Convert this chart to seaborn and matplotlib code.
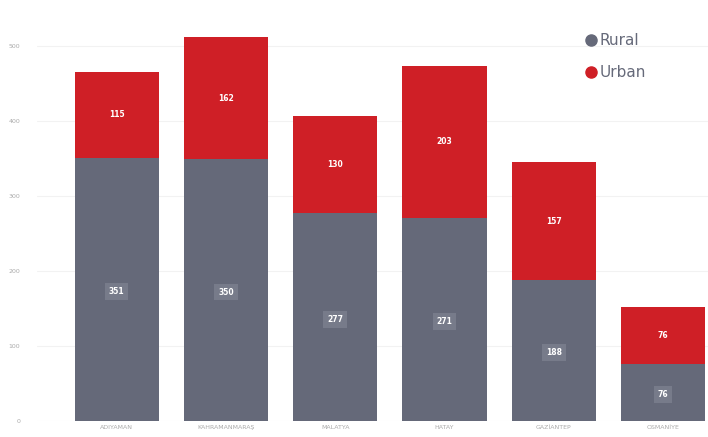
import matplotlib
matplotlib.use("Agg")
import matplotlib.pyplot as plt
from matplotlib.lines import Line2D
import numpy as np
import pandas as pd
import seaborn as sns

provinces = ["ADIYAMAN", "KAHRAMANMARAŞ", "MALATYA", "HATAY", "GAZİANTEP", "OSMANİYE"]
rural = [351, 350, 277, 271, 188, 76]
urban = [115, 162, 130, 203, 157, 76]

RURAL_COLOR = "#656979"
URBAN_COLOR = "#cf1f26"

df = pd.DataFrame({"province": provinces, "rural": rural, "urban": urban})
df["total"] = df["rural"] + df["urban"]

sns.set_style("white")
fig = plt.figure(figsize=(7.08, 4.37), dpi=100)
ax = fig.add_axes([0.052, 0.0366, 0.948, 0.878])

sns.barplot(data=df, x="province", y="total", color=URBAN_COLOR, saturation=1,
            width=0.77, linewidth=0, ax=ax, zorder=2)
sns.barplot(data=df, x="province", y="rural", color=RURAL_COLOR, saturation=1,
            width=0.77, linewidth=0, ax=ax, zorder=3)

# labels centred in each segment
urban_bars = ax.containers[0]
rural_bars = ax.containers[1]
for bar, u in zip(urban_bars, urban):
    x = bar.get_x() + bar.get_width() / 2
    top = bar.get_height()
    r = top - u
    ax.text(x, r + u / 2, str(u), ha="center", va="center", color="white",
            fontsize=5.5, fontweight="bold", zorder=5)
for bar, r in zip(rural_bars, rural):
    x = bar.get_x() + bar.get_width() / 2
    ax.text(x, r / 2 - 3, str(r), ha="center", va="center", color="white",
            fontsize=5.5, fontweight="bold", zorder=5,
            bbox=dict(boxstyle="square,pad=0.5", fc="#777b8a", ec="none"))

ax.set_ylim(0, 512)
ax.set_xlim(-0.73, 5.41)
ax.set_yticks([0, 100, 200, 300, 400, 500])
ax.yaxis.grid(True, color="#f2f2f2", linewidth=0.8, zorder=0)
ax.tick_params(axis="y", labelsize=4.5, labelcolor="#aaaaaa", pad=12, length=0)
ax.tick_params(axis="x", labelsize=4.5, labelcolor="#aaaaaa", pad=3, length=0)
ax.set_xlabel("")
ax.set_ylabel("")
sns.despine(ax=ax, left=True, bottom=True)

handles = [Line2D([], [], marker="o", linestyle="", color=RURAL_COLOR, markersize=8),
           Line2D([], [], marker="o", linestyle="", color=URBAN_COLOR, markersize=8)]
fig.legend(handles, ["Rural", "Urban"], loc="upper left", bbox_to_anchor=(0.805, 0.955),
           frameon=False, fontsize=11, labelspacing=1.1, handletextpad=0.05,
           labelcolor="#666a7a", handlelength=1.0)

fig.savefig("out.png", dpi=100)
